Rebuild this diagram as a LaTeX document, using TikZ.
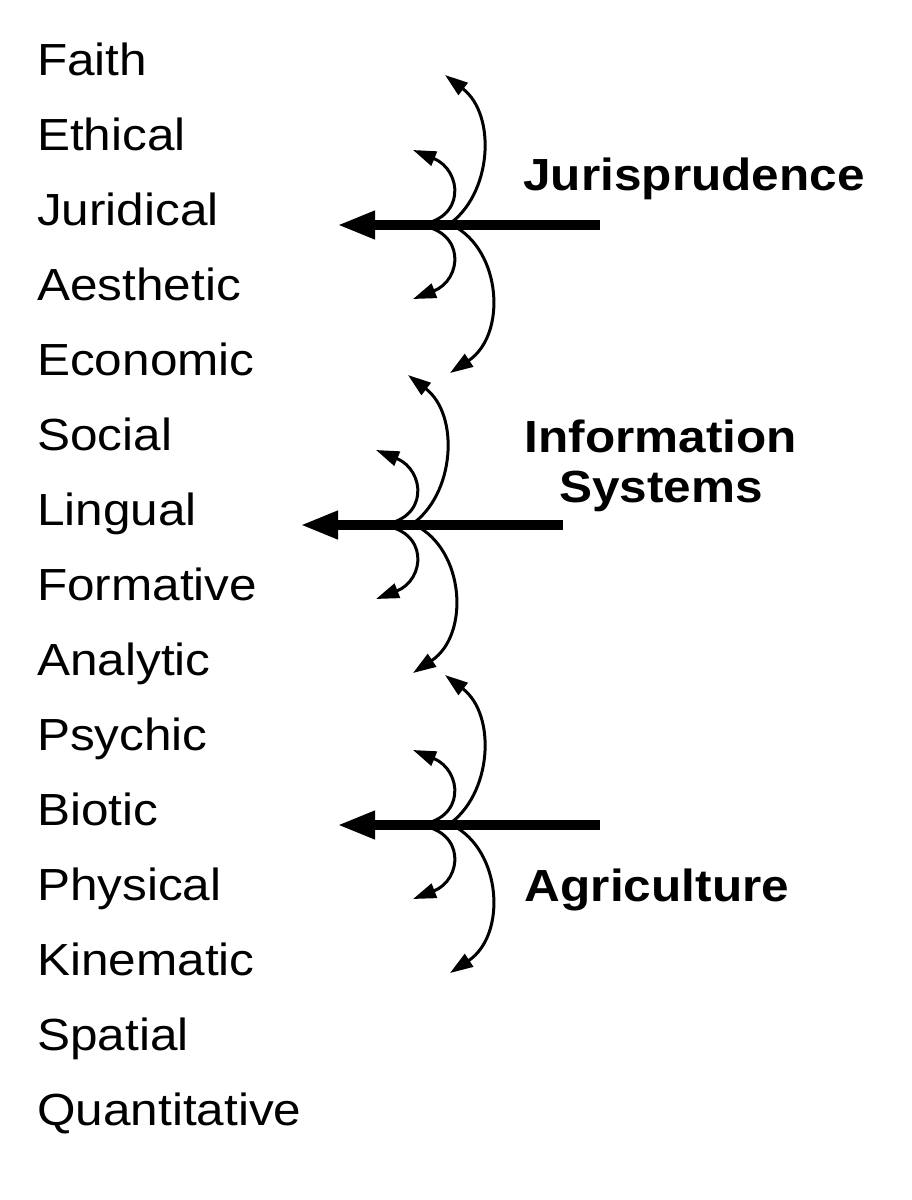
\documentclass[tikz,border=0pt]{standalone}
\usepackage{fontspec}
\setmainfont{Liberation Sans}[FakeStretch=1.1]
\usetikzlibrary{arrows.meta}

\tikzset{
  aspect/.style={anchor=base west, inner sep=0pt, font=\fontsize{45}{54}\selectfont},
  field/.style={anchor=base, inner sep=0pt, align=center, font=\fontsize{45}{50}\selectfont\bfseries},
  bigarrow/.style={line width=10pt, -{Triangle[length=38pt,width=26pt]}},
  curl/.style={line width=3pt, -{Triangle[length=23pt,width=15pt]}}
}

\begin{document}
\begin{tikzpicture}[x=1pt, y=-1pt]
  \useasboundingbox (0,0) rectangle (912,1200);
  % modal aspects
  \foreach \lab [count=\i from 0] in {Faith,Ethical,Juridical,Aesthetic,Economic,Social,Lingual,Formative,Analytic,Psychic,Biotic,Physical,Kinematic,Spatial,Quantitative}
    \node[aspect] (asp\i) at (37,{75+75.07*\i}) {\lab};
  % fields
  \node[field] (jur) at (694,190) {Jurisprudence};
  \node[field] (inf) at (661,502) {Information\\Systems};
  \node[field] (agr) at (657,901) {Agriculture};
  % arrows
  \foreach \g/\x/\y in {j/417/225, i/380/525, a/417/825} {
    \begin{scope}[shift={(\x,\y)}]
      \coordinate (\g-o) at (0,0);
      \coordinate (\g-p) at (31,0);
      \coordinate (\g-q) at (35,0);
      \coordinate (\g-s) at (183,0);
      \coordinate (\g-t) at (-80,0);
      \draw[bigarrow] (\g-s) -- (\g-t);
      \draw[curl] (\g-o) .. controls (50,-5) and (45,-55) .. (-4,-75);
      \draw[curl] (\g-o) .. controls (50,5) and (45,55) .. (-4,74);
      \draw[curl] (\g-p) .. controls (75,-30) and (80,-110) .. (28,-150);
      \draw[curl] (\g-q) .. controls (85,25) and (90,110) .. (33,148);
    \end{scope}
  }
\end{tikzpicture}
\end{document}
